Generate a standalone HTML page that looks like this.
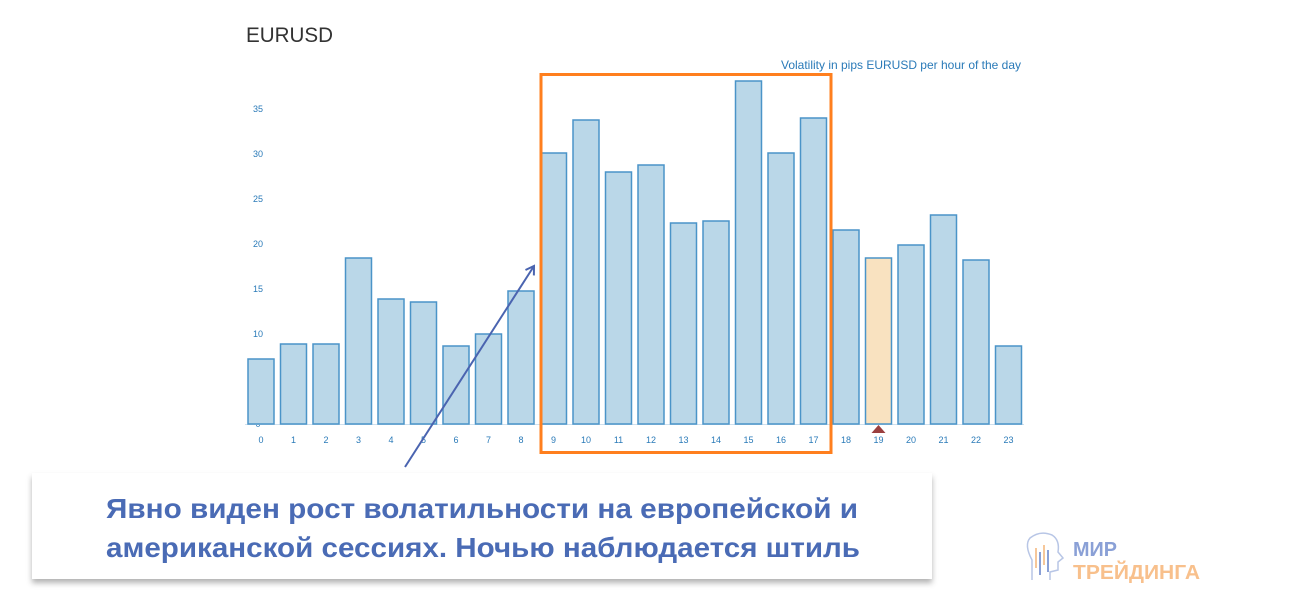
<!DOCTYPE html>
<html><head><meta charset="utf-8"><style>
body{margin:0;width:1300px;height:600px;background:#fff;overflow:hidden;font-family:"Liberation Sans",sans-serif}
</style></head><body>
<svg width="1300" height="600" viewBox="0 0 1300 600" xmlns="http://www.w3.org/2000/svg" style="position:absolute;left:0;top:0">
<defs>
<filter id="sh" x="-5%" y="-20%" width="110%" height="150%"><feDropShadow dx="0" dy="4" stdDeviation="3" flood-color="#000" flood-opacity="0.3"/></filter>
<marker id="ah" markerWidth="12" markerHeight="12" refX="9" refY="6" orient="auto" markerUnits="userSpaceOnUse"><path d="M1,1 L9,6 L1,11" fill="none" stroke="#4a64b0" stroke-width="2"/></marker>
</defs>
<text x="246" y="42" font-size="21" fill="#333" textLength="87" lengthAdjust="spacingAndGlyphs">EURUSD</text>
<text x="781" y="69" font-size="12" fill="#2a7ab8" textLength="240" lengthAdjust="spacingAndGlyphs">Volatility in pips EURUSD per hour of the day</text>
<g font-size="9" fill="#2a7ab8" text-anchor="middle">
<text x="258" y="112">35</text><text x="258" y="157">30</text><text x="258" y="202">25</text><text x="258" y="247">20</text><text x="258" y="292">15</text><text x="258" y="337">10</text><text x="258" y="382">5</text><text x="258" y="427">0</text>
</g>
<line x1="245" y1="424.5" x2="1024" y2="424.5" stroke="#cfe0ee" stroke-width="1"/>
<g fill="#bad7e8" stroke="#4a94c8" stroke-width="1.5">
<rect x="248" y="359" width="26" height="65"/>
<rect x="280.5" y="344" width="26" height="80"/>
<rect x="313" y="344" width="26" height="80"/>
<rect x="345.5" y="258" width="26" height="166"/>
<rect x="378" y="299" width="26" height="125"/>
<rect x="410.5" y="302" width="26" height="122"/>
<rect x="443" y="346" width="26" height="78"/>
<rect x="475.5" y="334" width="26" height="90"/>
<rect x="508" y="291" width="26" height="133"/>
<rect x="540.5" y="153" width="26" height="271"/>
<rect x="573" y="120" width="26" height="304"/>
<rect x="605.5" y="172" width="26" height="252"/>
<rect x="638" y="165" width="26" height="259"/>
<rect x="670.5" y="223" width="26" height="201"/>
<rect x="703" y="221" width="26" height="203"/>
<rect x="735.5" y="81" width="26" height="343"/>
<rect x="768" y="153" width="26" height="271"/>
<rect x="800.5" y="118" width="26" height="306"/>
<rect x="833" y="230" width="26" height="194"/>
<rect x="865.5" y="258" width="26" height="166" fill="#f9e2c0"/>
<rect x="898" y="245" width="26" height="179"/>
<rect x="930.5" y="215" width="26" height="209"/>
<rect x="963" y="260" width="26" height="164"/>
<rect x="995.5" y="346" width="26" height="78"/>
</g>
<path d="M871.5,433 L878.5,425 L885.5,433 Z" fill="#9b3f3f"/>
<g font-size="9" fill="#2a7ab8" text-anchor="middle">
<text x="261" y="443">0</text><text x="293.5" y="443">1</text><text x="326" y="443">2</text><text x="358.5" y="443">3</text><text x="391" y="443">4</text><text x="423.5" y="443">5</text><text x="456" y="443">6</text><text x="488.5" y="443">7</text><text x="521" y="443">8</text><text x="553.5" y="443">9</text><text x="586" y="443">10</text><text x="618.5" y="443">11</text><text x="651" y="443">12</text><text x="683.5" y="443">13</text><text x="716" y="443">14</text><text x="748.5" y="443">15</text><text x="781" y="443">16</text><text x="813.5" y="443">17</text><text x="846" y="443">18</text><text x="878.5" y="443">19</text><text x="911" y="443">20</text><text x="943.5" y="443">21</text><text x="976" y="443">22</text><text x="1008.5" y="443">23</text>
</g>
<rect x="541" y="74.5" width="290" height="378" fill="none" stroke="#ff7f1e" stroke-width="3"/>
<line x1="405" y1="467" x2="534" y2="266" stroke="#4a64b0" stroke-width="2" marker-end="url(#ah)"/>
<rect x="32" y="473" width="900" height="106" fill="#fff" filter="url(#sh)"/>
<g font-size="28" font-weight="bold" fill="#4a6bb5">
<text x="106" y="518" textLength="752" lengthAdjust="spacingAndGlyphs">Явно виден рост волатильности на европейской и</text>
<text x="106" y="557" textLength="754" lengthAdjust="spacingAndGlyphs">американской сессиях. Ночью наблюдается штиль</text>
</g>
<g stroke="#b8c6e6" stroke-width="1.5" fill="none">
<path d="M1032,580 L1032,560 Q1024,545 1030,538 Q1040,530 1052,535 Q1060,540 1058,552 L1063,558 L1058,562 L1058,570 L1050,572 L1050,580"/>
</g>
<g stroke-width="2">
<line x1="1036" y1="548" x2="1036" y2="568" stroke="#f6c79a"/>
<line x1="1040" y1="552" x2="1040" y2="575" stroke="#8aa0d6"/>
<line x1="1044" y1="545" x2="1044" y2="565" stroke="#f6c79a"/>
<line x1="1048" y1="550" x2="1048" y2="572" stroke="#8aa0d6"/>
</g>
<text x="1073" y="556" font-size="20" font-weight="bold" fill="#8aa0d6" textLength="44" lengthAdjust="spacingAndGlyphs">МИР</text>
<text x="1073" y="579" font-size="20" font-weight="bold" fill="#f8c08c" textLength="127" lengthAdjust="spacingAndGlyphs">ТРЕЙДИНГА</text>
</svg>
</body></html>
